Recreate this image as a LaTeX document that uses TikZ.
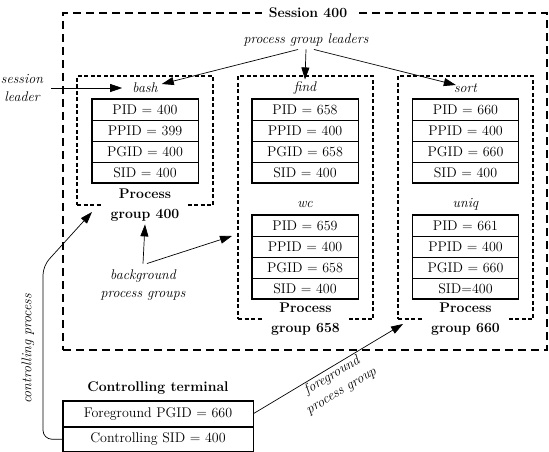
\documentclass[tikz,border=0pt]{standalone}
\usetikzlibrary{arrows.meta}

% One process table: four stacked cells with a heavy outer frame
\newcommand\proctab[6]{%
  \node[cell] (#1r1) at #2 {#3};
  \node[cell] (#1r2) at (#1r1.south) {#4};
  \node[cell] (#1r3) at (#1r2.south) {#5};
  \node[cell] (#1r4) at (#1r3.south) {#6};
  \draw[frame] (#1r1.north west) rectangle (#1r4.south east);
}

\begin{document}
\begin{tikzpicture}[x=1pt,y=-1pt,
  cell/.style={draw, line width=0.5pt, minimum width=106pt, minimum height=20.5pt,
    inner sep=0pt, anchor=north, font=\fontsize{14}{17}\selectfont},
  tcell/.style={cell, minimum width=190pt, minimum height=25pt},
  frame/.style={line width=1.4pt},
  grpbox/.style={draw, dash pattern=on 4pt off 2.5pt, line width=1.2pt, inner sep=0pt},
  sessbox/.style={draw, dash pattern=on 8pt off 5pt, line width=1.4pt, inner sep=0pt},
  proc/.style={font=\fontsize{14}{17}\selectfont\itshape, inner sep=2pt},
  note/.style={font=\fontsize{14}{18}\selectfont\itshape, align=center, inner sep=1pt},
  grplabel/.style={font=\fontsize{14}{20}\selectfont\bfseries, align=center,
    fill=white, inner xsep=9pt, inner ysep=1pt},
  title/.style={font=\fontsize{14}{17}\selectfont\bfseries, fill=white, inner xsep=7pt},
  arr/.style={line width=0.7pt, -{Triangle[length=12pt,width=8pt]}},
]
\useasboundingbox (0,0) rectangle (549,452);

% Session and process-group boundaries
\node[sessbox, minimum width=484pt, minimum height=337pt] (session) at (305,181.5) {};
\node[grpbox, minimum width=136pt, minimum height=129pt] (g400) at (145,140.5) {};
\node[grpbox, minimum width=135pt, minimum height=243pt] (g658) at (305.5,197.5) {};
\node[grpbox, minimum width=135pt, minimum height=243pt] (g660) at (465.5,197.5) {};

\node[title] (sesstitle) at ([xshift=3pt]session.north) {Session 400};

% Processes
\node[proc] (bash) at (145,88) {bash};
\proctab{bash}{(145,99)}{PID = 400}{PPID = 399}{PGID = 400}{SID = 400}

\node[proc] (find) at (305,88) {find};
\proctab{find}{(305,99)}{PID = 658}{PPID = 400}{PGID = 658}{SID = 400}

\node[proc] (wc) at (305,204) {wc};
\proctab{wc}{(305,215)}{PID = 659}{PPID = 400}{PGID = 658}{SID = 400}

\node[proc] (sort) at (465.5,88) {sort};
\proctab{sort}{(465.5,99)}{PID = 660}{PPID = 400}{PGID = 660}{SID = 400}

\node[proc] (uniq) at (465.5,204) {uniq};
\proctab{uniq}{(465.5,215)}{PID = 661}{PPID = 400}{PGID = 660}{SID=400}

% Group labels sitting on the lower edges
\node[grplabel] (lab400) at (145,205) {Process\\group 400};
\node[grplabel] (lab658) at (305.5,319) {Process\\group 658};
\node[grplabel] (lab660) at (465.5,319) {Process\\group 660};

% Controlling terminal
\node[title] (termtitle) at (158,388) {Controlling terminal};
\node[tcell] (fg) at (158,401) {Foreground PGID = 660};
\node[tcell] (csid) at (fg.south) {Controlling SID = 400};
\draw[frame] (fg.north west) rectangle (csid.south east);

% Annotations
\node[note] (pgl) at (306,40) {process group leaders};
\node[note] (sl) at (22,88) {session\\leader};
\node[note] (bg) at (143,285) {background\\process groups};
\node[note, rotate=90] (cp) at (28,349) {controlling process};

\coordinate (bgtip) at (232,236);
\coordinate (cptip) at (92,212);
\coordinate (fgtip) at (403,324);

\draw[arr] ([xshift=-8pt,yshift=-2pt]pgl.south) -- ([xshift=2pt,yshift=4pt]bash.east);
\draw[arr] ([yshift=-2pt]pgl.south) -- (find.north);
\draw[arr] ([xshift=8pt,yshift=-2pt]pgl.south) -- ([xshift=4pt,yshift=3pt]sort.west);
\draw[arr] ([xshift=7pt]sl.east) -- ([xshift=-8pt]bash.west);
\draw[arr] ([yshift=5pt]bg.north) -- ([yshift=-2pt]lab400.south);
\draw[arr] ([xshift=4pt,yshift=5pt]bg.north) -- (bgtip);
\draw[arr, rounded corners=9pt] (csid.west) -| (43,266) -- (cptip);
\draw[arr] (fg.east) -- node[note, sloped, below, pos=0.5] {foreground\\process group} (fgtip);

\end{tikzpicture}
\end{document}
